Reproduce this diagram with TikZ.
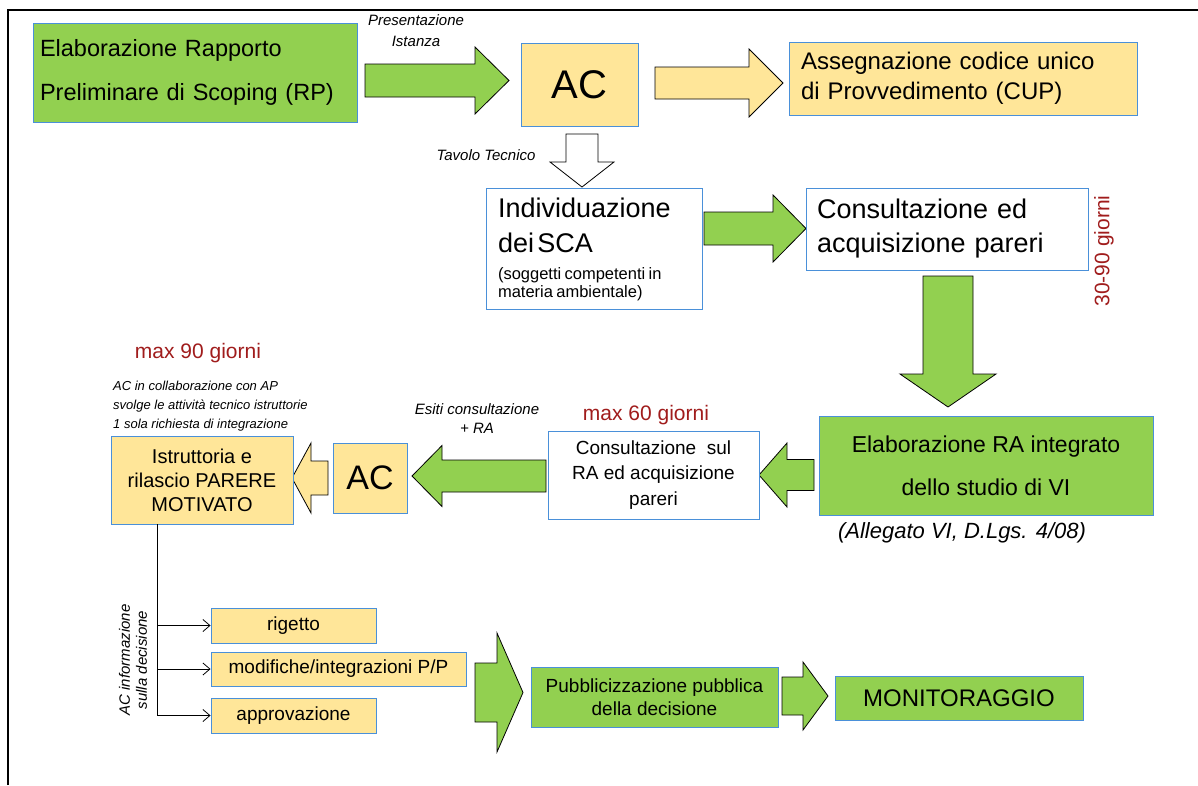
\documentclass[tikz,border=0pt]{standalone}
\usepackage{fontspec}
\setmainfont{Liberation Sans}
\usetikzlibrary{arrows.meta}
\definecolor{gr}{HTML}{92D050}
\definecolor{yl}{HTML}{FFE699}
\definecolor{bl}{HTML}{4A90D9}
\definecolor{dr}{HTML}{A01C1C}
\newcommand\fs[2]{\fontsize{#1}{#2}\selectfont}
% horizontal block arrow: tail, base, tip, yc, half shaft, half head, fill
\newcommand\arH[7]{\filldraw[barrow,fill=#7] (#1,#4-#5) -- (#2,#4-#5) -- (#2,#4-#6) -- (#3,#4) -- (#2,#4+#6) -- (#2,#4+#5) -- (#1,#4+#5) -- cycle;}
% vertical block arrow: top, base, tip, xc, half shaft, half head, fill
\newcommand\arV[7]{\filldraw[barrow,fill=#7] (#4-#5,#1) -- (#4-#5,#2) -- (#4-#6,#2) -- (#4,#3) -- (#4+#6,#2) -- (#4+#5,#2) -- (#4+#5,#1) -- cycle;}
\begin{document}
\begin{tikzpicture}[x=1pt,y=-1pt,
  bx/.style={draw=bl, line width=0.9pt, inner sep=0pt, align=center},
  gbox/.style={bx, fill=gr},
  ybox/.style={bx, fill=yl},
  wbox/.style={bx, fill=white},
  barrow/.style={draw=black, line width=0.8pt, line join=miter},
  lbl/.style={align=center, inner sep=0pt},
  red/.style={text=dr, inner sep=0pt},
  conn/.style={draw=black, line width=0.8pt, -{Straight Barb[length=7pt,width=12pt]}},
]
\useasboundingbox (0,0) rectangle (1198,785);
\draw[line width=2pt] (8,785) -- (8,10) -- (1198,10);

% top row
\node[gbox, minimum width=324pt, minimum height=99pt, text width=310pt, align=left,
  font=\fs{23.5}{44}] (rp) at (195,72.5) {Elaborazione Rapporto\\Preliminare di Scoping (RP)};
\node[ybox, minimum width=117pt, minimum height=83pt, font=\fs{40}{44}] (ac1) at (579.5,84.5) {AC};
\node[ybox, minimum width=348pt, minimum height=73pt, text width=324pt, align=left,
  font=\fs{24}{30}] (cup) at (963,78.5) {Assegnazione codice unico\\di Provvedimento (CUP)\par\vspace{3pt}};
\arH{365}{475}{509}{80.5}{16.5}{33.5}{gr}
\arH{655}{749}{783}{83}{16}{34}{yl}
\node[lbl, font=\fs{15}{21}\itshape] (pres) at (416,31) {Presentazione\\Istanza};

% second row
\arV{134}{162}{187}{582}{16}{32}{white}
\node[lbl, font=\fs{15}{19}\itshape] (tav) at (486,155) {Tavolo Tecnico};
\node[wbox, minimum width=216pt, minimum height=121pt, text width=192pt, align=left] (sca) at (594,249)
  {{\fs{27}{35}Individuazione\par dei SCA\par}\vspace{9pt}{\fs{16.5}{18}(soggetti competenti in\par materia ambientale)\par}};
\arH{704}{773}{806}{228.5}{16.5}{33.5}{gr}
\node[wbox, minimum width=282pt, minimum height=82pt, text width=260pt, align=left,
  font=\fs{27}{34}] (cons) at (947,229) {Consultazione ed\\acquisizione pareri};
\node[red, rotate=90, font=\fs{21}{25}] (g3090) at (1104,251) {30-90 giorni};
\arV{276}{374}{407}{948}{25}{48}{gr}

% third row
\node[gbox, minimum width=334pt, minimum height=99pt, font=\fs{23}{43}] (ra) at (986,465.5)
  {Elaborazione RA integrato\\dello studio di VI};
\node[lbl, font=\fs{22}{26}\itshape] (all) at (962,533) {(Allegato VI, D.Lgs. 4/08)};
\arH{814}{787}{759}{475}{15.5}{32}{gr}
\node[wbox, minimum width=211pt, minimum height=88pt, font=\fs{19}{25.5}] (csra) at (653.5,475)
  {Consultazione\ \ sul\\RA ed acquisizione\\pareri};
\node[red, font=\fs{21}{25}] (m60) at (646,415) {max 60 giorni};
\arH{546}{442}{412}{476}{16}{30.5}{gr}
\node[lbl, font=\fs{15}{19}\itshape] (esiti) at (477,419) {Esiti consultazione\\+ RA};
\node[ybox, minimum width=74pt, minimum height=70pt, font=\fs{34}{38}] (ac2) at (370,478) {AC};
\arH{328}{311}{292}{478}{17}{35}{yl}
\node[ybox, minimum width=182pt, minimum height=88pt, font=\fs{20}{24}] (ist) at (202,480)
  {Istruttoria e\\rilascio PARERE\\MOTIVATO};
\node[red, font=\fs{21}{25}] (m90) at (198,353) {max 90 giorni};
\node[lbl, align=left, anchor=west, font=\fs{13}{19}\itshape] (collab) at (113,406)
  {AC in collaborazione con AP\\svolge le attività tecnico istruttorie\\1 sola richiesta di integrazione};

% decision branches
\node[ybox, minimum width=165pt, minimum height=35pt, font=\fs{19}{23}] (rig) at (293.5,625.5) {rigetto};
\node[ybox, minimum width=255pt, minimum height=34pt, font=\fs{19}{23}] (mod) at (338.5,669) {modifiche/integrazioni P/P};
\node[ybox, minimum width=165pt, minimum height=35pt, font=\fs{19}{23}] (apr) at (293.5,715.5) {approvazione};
\coordinate (tkx) at (157,0);
\coordinate (tk) at (ist.south -| tkx);
\draw[line width=0.8pt] (tk) -- (apr.west -| tk);
\draw[conn] (rig.west -| tk) -- (rig.west);
\draw[conn] (mod.west -| tk) -- (mod.west);
\draw[conn] (apr.west -| tk) -- (apr.west);
\node[lbl, rotate=90, font=\fs{15}{17}\itshape] (info) at (133,660) {AC informazione\\sulla decisione};

% bottom row
\arH{475}{497}{523}{692.5}{29.5}{59.5}{gr}
\node[gbox, minimum width=247pt, minimum height=60pt, font=\fs{19}{23}] (pub) at (654.5,697)
  {Pubblicizzazione pubblica\\della decisione};
\arH{782}{803}{828}{696}{19}{34}{gr}
\node[gbox, minimum width=248pt, minimum height=44pt, font=\fs{24}{28}] (mon) at (959,698) {MONITORAGGIO};
\end{tikzpicture}
\end{document}
